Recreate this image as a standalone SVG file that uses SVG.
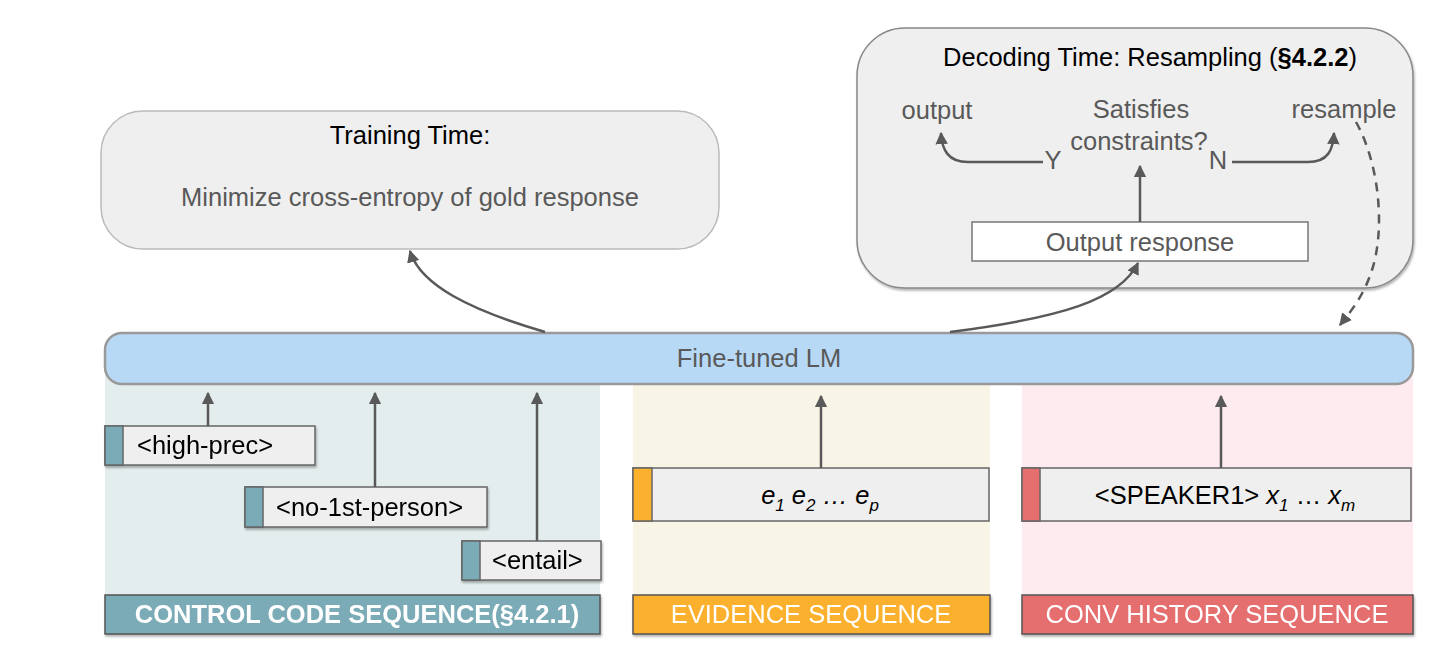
<svg xmlns="http://www.w3.org/2000/svg" width="1440" height="668" viewBox="0 0 1440 668">
<style>
text{font-family:"Liberation Sans",Arial,sans-serif;font-size:25.5px}
.dark{fill:#000}
.grey{fill:#595959}
.tok{fill:#efefef;stroke:#666;stroke-width:1.5}
.conn{fill:none;stroke:#595959;stroke-width:2.5}
.lbl{fill:#fff}
.sub{font-size:17px}
</style>
<defs>
<marker id="ah" viewBox="0 0 10 10" refX="9" refY="5" markerWidth="5" markerHeight="5" orient="auto" markerUnits="strokeWidth">
<path d="M0,0 L10,5 L0,10 z" fill="#595959"/>
</marker>
<filter id="sh" x="-5%" y="-20%" width="110%" height="150%">
<feDropShadow dx="1" dy="2" stdDeviation="1.2" flood-color="#000" flood-opacity="0.3"/>
</filter>
</defs>
<rect width="1440" height="668" fill="#fff"/>

<g id="bg-columns">
<rect x="105" y="370" width="495" height="226" fill="#e3eded"/>
<rect x="633" y="370" width="357" height="226" fill="#f9f5e6"/>
<rect x="1022" y="370" width="391" height="226" fill="#fdebf0"/>
</g>

<g id="training">
<rect x="101" y="111" width="618" height="138" rx="42" fill="#efefef" stroke="#bbb" stroke-width="1.5"/>
<text x="410" y="144" text-anchor="middle" class="dark">Training Time:</text>
<text x="410" y="206" text-anchor="middle" class="grey">Minimize cross-entropy of gold response</text>
</g>

<g id="decoding">
<rect x="857" y="28" width="556" height="260" rx="48" fill="#efefef" stroke="#888" stroke-width="1.5" filter="url(#sh)"/>
<text x="1150" y="66" text-anchor="middle" class="dark">Decoding Time: Resampling (<tspan font-weight="bold">§4.2.2</tspan>)</text>
<text x="937" y="119" text-anchor="middle" class="grey">output</text>
<text x="1141" y="118" text-anchor="middle" class="grey">Satisfies</text>
<text x="1139" y="150" text-anchor="middle" class="grey">constraints?</text>
<text x="1344" y="118" text-anchor="middle" class="grey">resample</text>
<text x="1053" y="169" text-anchor="middle" class="grey">Y</text>
<text x="1218" y="169" text-anchor="middle" class="grey">N</text>
</g>

<g id="output-response">
<rect x="972" y="222" width="336" height="39" fill="#fff" stroke="#777" stroke-width="1.5"/>
<text x="1140" y="251" text-anchor="middle" class="grey">Output response</text>
</g>

<g id="lm">
<rect x="105" y="333" width="1308" height="51" rx="17" fill="#b8d9f6" stroke="#999" stroke-width="2.5"/>
<text x="759" y="367" text-anchor="middle" class="grey">Fine-tuned LM</text>
</g>

<g id="tok-high-prec" filter="url(#sh)">
<rect x="105" y="426" width="210" height="39" class="tok"/>
<rect x="105" y="426" width="18" height="39" fill="#7aabb6" stroke="#666" stroke-width="1.5"/>
<text x="137" y="454" class="dark">&lt;high-prec&gt;</text>
</g>
<g id="tok-no-1st-person" filter="url(#sh)">
<rect x="245" y="487" width="242" height="40" class="tok"/>
<rect x="245" y="487" width="18" height="40" fill="#7aabb6" stroke="#666" stroke-width="1.5"/>
<text x="276" y="516" class="dark">&lt;no-1st-person&gt;</text>
</g>
<g id="tok-entail" filter="url(#sh)">
<rect x="462" y="541" width="139" height="39" class="tok"/>
<rect x="462" y="541" width="18" height="39" fill="#7aabb6" stroke="#666" stroke-width="1.5"/>
<text x="492" y="569" class="dark">&lt;entail&gt;</text>
</g>
<g id="tok-evidence">
<rect x="633" y="468" width="356" height="53" class="tok"/>
<rect x="633" y="468" width="19" height="53" fill="#fbb12d" stroke="#666" stroke-width="1.5"/>
<text x="820" y="504" text-anchor="middle" font-style="italic" class="dark">e<tspan class="sub" dy="7">1</tspan><tspan dy="-7"> e</tspan><tspan class="sub" dy="7">2</tspan><tspan dy="-7"> … e</tspan><tspan class="sub" dy="7">p</tspan></text>
</g>
<g id="tok-conv">
<rect x="1022" y="468" width="389" height="53" class="tok"/>
<rect x="1022" y="468" width="18" height="53" fill="#e56e6e" stroke="#666" stroke-width="1.5"/>
<text x="1225" y="504" text-anchor="middle" class="dark">&lt;SPEAKER1&gt; <tspan font-style="italic">x</tspan><tspan font-style="italic" class="sub" dy="7">1</tspan><tspan dy="-7"> … </tspan><tspan font-style="italic">x</tspan><tspan font-style="italic" class="sub" dy="7">m</tspan></text>
</g>

<g id="label-control" filter="url(#sh)">
<rect x="105" y="595" width="495" height="39" fill="#7aabb6" stroke="#555" stroke-width="1.5"/>
<text x="357" y="623" text-anchor="middle" font-weight="bold" class="lbl" font-size="24">CONTROL CODE SEQUENCE(§4.2.1)</text>
</g>
<g id="label-evidence" filter="url(#sh)">
<rect x="633" y="595" width="357" height="39" fill="#fbb12d" stroke="#555" stroke-width="1.5"/>
<text x="811" y="623" text-anchor="middle" class="lbl">EVIDENCE SEQUENCE</text>
</g>
<g id="label-conv" filter="url(#sh)">
<rect x="1022" y="595" width="391" height="39" fill="#e56e6e" stroke="#555" stroke-width="1.5"/>
<text x="1217" y="623" text-anchor="middle" class="lbl">CONV HISTORY SEQUENCE</text>
</g>

<g id="connectors">
<path class="conn" d="M208,426 L208,393" marker-end="url(#ah)"/>
<path class="conn" d="M375,487 L375,393" marker-end="url(#ah)"/>
<path class="conn" d="M537,541 L537,393" marker-end="url(#ah)"/>
<path class="conn" d="M821,468 L821,396" marker-end="url(#ah)"/>
<path class="conn" d="M1221,468 L1221,396" marker-end="url(#ah)"/>
<path class="conn" d="M545,332 C470,310 420,285 410,251" marker-end="url(#ah)"/>
<path class="conn" d="M950,332 C1060,318 1120,300 1138,263" marker-end="url(#ah)"/>
<path class="conn" d="M1140,222 L1140,166" marker-end="url(#ah)"/>
<path class="conn" d="M1043,162 L968,162 C948,162 942,150 941,133" marker-end="url(#ah)"/>
<path class="conn" d="M1232,162 L1308,162 C1328,162 1333,150 1334,133" marker-end="url(#ah)"/>
<path class="conn" d="M1356,122 C1380,165 1385,230 1372,270 C1364,295 1352,310 1340,325" stroke-dasharray="9,7" marker-end="url(#ah)"/>
</g>
</svg>
